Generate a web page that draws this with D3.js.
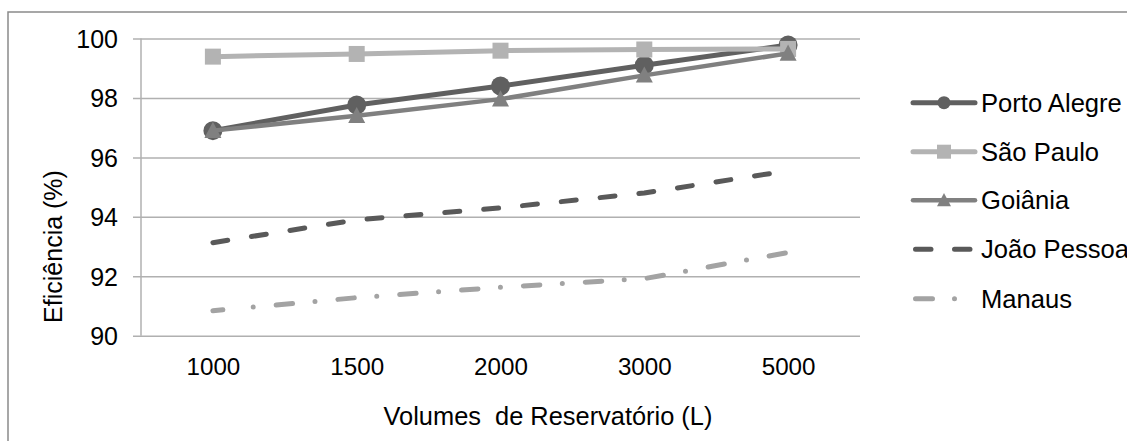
<!DOCTYPE html>
<html>
<head>
<meta charset="utf-8">
<script src="https://cdn.jsdelivr.net/npm/d3@7"></script>
<style>
  html, body { margin: 0; padding: 0; background: #fff; }
  svg { display: block; }
  text { font-family: "Liberation Sans", Arial, sans-serif; fill: #000; }
</style>
</head>
<body>
<svg id="chart" width="1127" height="441"></svg>
<script>
// Volumes de reservatório (L) e eficiência (%) por cidade
const volumes = ["1000", "1500", "2000", "3000", "5000"];
const yTicks = [90, 92, 94, 96, 98, 100];

const portoAlegre = [96.9, 97.76, 98.4, 99.1, 99.78];
const saoPaulo    = [99.39, 99.48, 99.59, 99.63, 99.65];
const goiania     = [96.9, 97.4, 97.96, 98.76, 99.5];
const joaoPessoa  = [93.13, 93.9, 94.3, 94.8, 95.55];
const manaus      = [90.84, 91.28, 91.63, 91.92, 92.8];

const seriesNames = ["Porto Alegre", "São Paulo", "Goiânia", "João Pessoa", "Manaus"];

// Dash-dot pattern for Manaus: a short leading dash, then the repeating long dash / dot
const dashDot = [10, 30.5, 0, 23].concat(d3.range(12).flatMap(() => [16.5, 22.5, 0, 23]));

const series = [
  { name: seriesNames[0], values: portoAlegre, color: "#606060", width: 5, dash: null, marker: "circle" },
  { name: seriesNames[1], values: saoPaulo,    color: "#b3b3b3", width: 5, dash: null, marker: "square" },
  { name: seriesNames[2], values: goiania,     color: "#808080", width: 4.5, dash: null, marker: "triangle" },
  { name: seriesNames[3], values: joaoPessoa,  color: "#595959", width: 5, dash: "15,24", legendDash: "15.5,23.5", marker: null },
  { name: seriesNames[4], values: manaus,      color: "#a3a3a3", width: 5, dash: dashDot.join(","), legendDash: "17,22,0,30", marker: null }
];

const svg = d3.select("#chart");

// Chart frame
svg.append("rect")
  .attr("x", 8).attr("y", 12)
  .attr("width", 1140).attr("height", 460)
  .attr("fill", "none").attr("stroke", "#8a8a8a").attr("stroke-width", 1.5);

const plot = { left: 141, right: 860, top: 38.5, bottom: 335.7 };

const x = d3.scalePoint().domain(volumes).range([plot.left, plot.right]).padding(0.5);
const y = d3.scaleLinear().domain([90, 100]).range([plot.bottom, plot.top]);

// Horizontal gridlines with short outer ticks
const yAxis = d3.axisLeft(y)
  .tickValues(yTicks)
  .tickSize(-(plot.right - plot.left))
  .tickSizeOuter(0)
  .tickFormat(d3.format("d"));

const gy = svg.append("g")
  .attr("transform", `translate(${plot.left},0)`)
  .call(yAxis);
gy.select(".domain").remove();
gy.selectAll(".tick line")
  .attr("x1", -8)
  .attr("stroke", "#b0b0b0").attr("stroke-width", 1.5);
gy.selectAll(".tick text")
  .attr("font-size", 25)
  .attr("x", -23)
  .attr("dy", "0.35em");

// Vertical value axis line
svg.append("line")
  .attr("x1", plot.left).attr("x2", plot.left)
  .attr("y1", plot.top).attr("y2", plot.bottom)
  .attr("stroke", "#b0b0b0").attr("stroke-width", 1.5);

// Category labels
const xAxis = d3.axisBottom(x).tickSize(0).tickPadding(22);
const gx = svg.append("g")
  .attr("transform", `translate(0,${plot.bottom})`)
  .call(xAxis);
gx.select(".domain").remove();
gx.selectAll(".tick text").attr("font-size", 24.2);

// Axis titles
svg.append("text")
  .attr("x", 548).attr("y", 425)
  .attr("text-anchor", "middle")
  .attr("font-size", 25.4)
  .style("white-space", "pre")
  .text("Volumes  de Reservatório (L)");

svg.append("text")
  .attr("transform", "translate(62,246.5) rotate(-90)")
  .attr("text-anchor", "middle")
  .attr("font-size", 25)
  .text("Eficiência (%)");

// Series lines and markers
const line = d3.line()
  .x((d, i) => x(volumes[i]))
  .y(d => y(d));

function drawMarker(g, type, cx, cy, size, color) {
  if (type === "circle") {
    g.append("circle").attr("cx", cx).attr("cy", cy).attr("r", size).attr("fill", color);
  } else if (type === "square") {
    g.append("rect")
      .attr("x", cx - size).attr("y", cy - size)
      .attr("width", size * 2).attr("height", size * 2)
      .attr("fill", color);
  } else if (type === "triangle") {
    const h = size * 1.9;
    g.append("path")
      .attr("d", `M${cx},${cy - h * 0.55} L${cx + size},${cy + h * 0.45} L${cx - size},${cy + h * 0.45} Z`)
      .attr("fill", color);
  }
}

const markerSize = { circle: 9.5, square: 8, triangle: 8.5 };

series.forEach(s => {
  const g = svg.append("g");
  g.append("path")
    .datum(s.values)
    .attr("d", line)
    .attr("fill", "none")
    .attr("stroke", s.color)
    .attr("stroke-width", s.width)
    .attr("stroke-linejoin", "round")
    .attr("stroke-linecap", s.dash ? "round" : "butt")
    .attr("stroke-dasharray", s.dash);
  if (s.marker) {
    s.values.forEach((v, i) => drawMarker(g, s.marker, x(volumes[i]), y(v), markerSize[s.marker], s.color));
  }
});

// Legend
const legendRows = [102.7, 151.7, 200.3, 249.3, 298.8];
const lx0 = 913, lx1 = 975;
series.forEach((s, i) => {
  const g = svg.append("g");
  const ly = legendRows[i];
  g.append("line")
    .attr("x1", s.dash ? lx0 + 2.5 : lx0).attr("x2", s.dash ? lx1 - 2.5 : lx1)
    .attr("y1", ly).attr("y2", ly)
    .attr("stroke", s.color)
    .attr("stroke-width", s.width)
    .attr("stroke-linecap", "round")
    .attr("stroke-dasharray", s.legendDash || null);
  if (s.marker) {
    const sz = s.marker === "circle" ? 6.5 : 7;
    drawMarker(g, s.marker, (lx0 + lx1) / 2, ly, sz, s.color);
  }
  g.append("text")
    .attr("x", 981).attr("y", ly)
    .attr("dy", "0.35em")
    .attr("font-size", 25.6)
    .text(s.name);
});
</script>
</body>
</html>
